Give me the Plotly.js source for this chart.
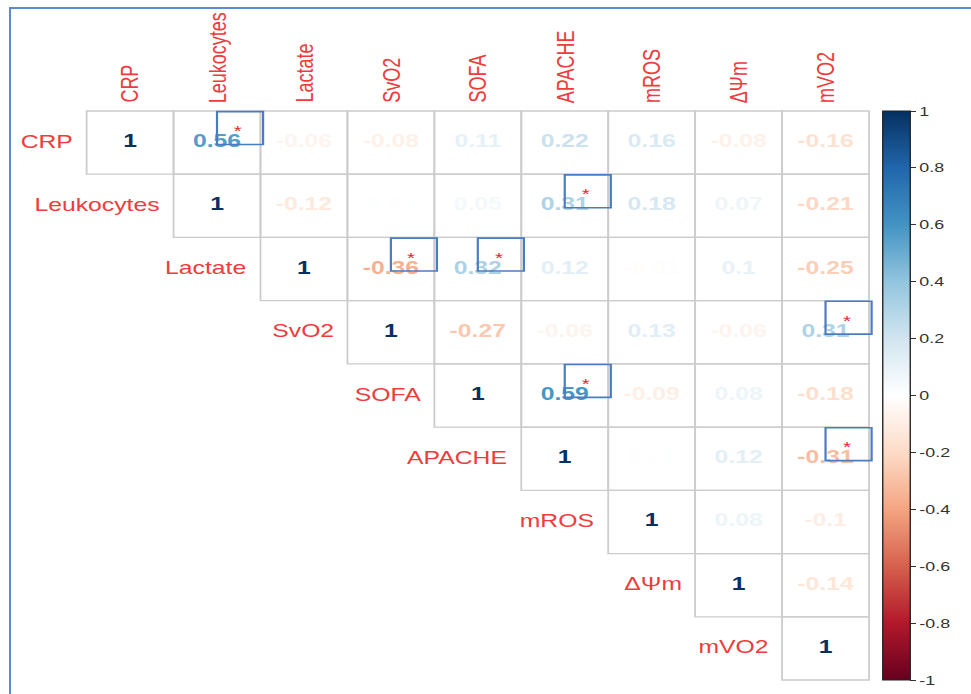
<!DOCTYPE html>
<html>
<head>
<meta charset="utf-8">
<script src="https://cdn.plot.ly/plotly-3.0.1.min.js"></script>
<style>
  html, body { margin: 0; padding: 0; background: #ffffff; overflow: hidden; }
  body { width: 971px; height: 694px; position: relative; }
  #frame {
    position: absolute; left: 9px; top: 7px; width: 980px; height: 700px;
    border-top: 2px solid #5b8bd0; border-left: 2px solid #5b8bd0;
  }
  /* the matrix is laid out on square cells, then widened horizontally */
  #chart {
    position: absolute; left: 0; top: 0; width: 706px; height: 694px;
    transform: scaleX(1.375); transform-origin: 0 0;
  }
</style>
</head>
<body>
<div id="frame"></div>
<div id="chart"></div>
<script>
// Variables of the correlation matrix
const variables = ["CRP", "Leukocytes", "Lactate", "SvO2", "SOFA", "APACHE", "mROS", "ΔΨm", "mVO2"];

// Upper-triangle correlation coefficients, one row per variable (from the diagonal rightwards)
const rowCRP        = [1, 0.56, -0.06, -0.08, 0.11, 0.22, 0.16, -0.08, -0.16];
const rowLeukocytes = [1, -0.12, 0.01, 0.05, 0.31, 0.18, 0.07, -0.21];
const rowLactate    = [1, -0.36, 0.32, 0.12, -0.01, 0.1, -0.25];
const rowSvO2       = [1, -0.27, -0.06, 0.13, -0.06, 0.31];
const rowSOFA       = [1, 0.59, -0.09, 0.08, -0.18];
const rowAPACHE     = [1, 0.01, 0.12, -0.31];
const rowMROS       = [1, 0.08, -0.1];
const rowDPsi       = [1, -0.14];
const rowMVO2       = [1];
const upperRows = [rowCRP, rowLeukocytes, rowLactate, rowSvO2, rowSOFA, rowAPACHE, rowMROS, rowDPsi, rowMVO2];

// Pairs flagged as significant [row variable, column variable]
const significantPairs = [
  ["CRP", "Leukocytes"],
  ["Leukocytes", "APACHE"],
  ["Lactate", "SvO2"],
  ["Lactate", "SOFA"],
  ["SvO2", "mVO2"],
  ["SOFA", "APACHE"],
  ["APACHE", "mVO2"]
];

// Diverging red-blue palette, from -1 to 1
const palette = ["#67001F", "#B2182B", "#D6604D", "#F4A582", "#FDDBC7", "#FFFFFF",
                 "#D1E5F0", "#92C5DE", "#4393C3", "#2166AC", "#053061"];
const colorTicks = [1, 0.8, 0.6, 0.4, 0.2, 0, -0.2, -0.4, -0.6, -0.8, -1];

const colorscale = palette.map((c, i) => [i / (palette.length - 1), c]);

function hexToRgb(h) {
  return [parseInt(h.slice(1, 3), 16), parseInt(h.slice(3, 5), 16), parseInt(h.slice(5, 7), 16)];
}
function valueColor(v) {
  const t = (v + 1) / 2 * (palette.length - 1);
  const i = Math.min(Math.floor(t), palette.length - 2);
  const f = t - i;
  const a = hexToRgb(palette[i]), b = hexToRgb(palette[i + 1]);
  const c = a.map((x, k) => Math.round(x + (b[k] - x) * f));
  return `rgb(${c[0]},${c[1]},${c[2]})`;
}

const n = variables.length;
// cell index -> paper fraction (x left to right, y top to bottom)
const px = v => (v + 0.5) / n;
const py = v => 1 - (v + 0.5) / n;

const labelRed = "#ee3b3b";

const xs = [], ys = [], texts = [], colors = [];
const shapes = [];
upperRows.forEach((row, r) => {
  row.forEach((v, k) => {
    const c = r + k;
    xs.push(c); ys.push(r); texts.push(String(v)); colors.push(valueColor(v));
    shapes.push({
      type: "rect", xref: "paper", yref: "paper",
      x0: px(c - 0.5), x1: px(c + 0.5), y0: py(r - 0.5), y1: py(r + 0.5),
      line: { color: "#cccccc", width: 1.3 }, fillcolor: "rgba(0,0,0,0)", layer: "below"
    });
  });
});

const annotations = [];
variables.forEach((name, i) => {
  // row label, just left of the diagonal cell
  annotations.push({
    x: i - 0.5, y: i, xref: "x", yref: "y", text: name, showarrow: false,
    xanchor: "right", yanchor: "middle", xshift: -8, yshift: 1,
    font: { family: "Liberation Sans, Arial, sans-serif", size: 18, color: labelRed }
  });
  // column label, above the grid
  annotations.push({
    x: i, y: -0.5, xref: "x", yref: "y", text: name, showarrow: false,
    textangle: -90, xanchor: "center", yanchor: "bottom", yshift: 6,
    font: { family: "Liberation Sans, Arial, sans-serif", size: 18, color: labelRed }
  });
});

significantPairs.forEach(([a, b]) => {
  const r = variables.indexOf(a), c = variables.indexOf(b);
  shapes.push({
    type: "rect", xref: "paper", yref: "paper",
    x0: px(c), x1: px(c + 0.53), y0: py(r - 0.49), y1: py(r + 0.03),
    line: { color: "#4a7cc4", width: 1.6 }, fillcolor: "rgba(0,0,0,0)", layer: "above"
  });
  annotations.push({
    x: c + 0.24, y: r - 0.19, xref: "x", yref: "y", text: "*", showarrow: false,
    xanchor: "center", yanchor: "middle",
    font: { family: "Liberation Sans, Arial, sans-serif", size: 15, color: "#e8262a" }
  });
});

const numbers = {
  type: "scatter", mode: "text", x: xs, y: ys, text: texts,
  textposition: "middle center", cliponaxis: false,
  textfont: { family: "Liberation Sans, Arial, sans-serif", size: 18, weight: "bold", color: colors },
  hoverinfo: "skip", showlegend: false
};

// invisible carrier for the colour bar
const scale = {
  type: "scatter", mode: "markers", x: [0, 0], y: [0, 0], hoverinfo: "skip", showlegend: false,
  marker: {
    size: 1, opacity: 0, color: [-1, 1], cmin: -1, cmax: 1, colorscale: colorscale, showscale: true,
    colorbar: {
      x: 1.0176, xanchor: "left", xpad: 0, y: 0.5, yanchor: "middle", ypad: 0,
      len: 1, lenmode: "fraction", thickness: 20,
      outlinewidth: 1, outlinecolor: "#222222",
      ticks: "outside", ticklen: 4, tickwidth: 1, tickcolor: "#333333",
      tickmode: "array", tickvals: colorTicks, ticktext: colorTicks.map(String),
      tickfont: { family: "Liberation Sans, Arial, sans-serif", size: 13, color: "#333333" }
    }
  }
};

const layout = {
  width: 706, height: 694,
  margin: { l: 62.5, r: 74, t: 111, b: 14 },
  paper_bgcolor: "rgba(0,0,0,0)", plot_bgcolor: "rgba(0,0,0,0)",
  xaxis: { range: [-0.5, 8.5], showgrid: false, zeroline: false, showticklabels: false, ticks: "", showline: false, fixedrange: true },
  yaxis: { range: [8.5, -0.5], showgrid: false, zeroline: false, showticklabels: false, ticks: "", showline: false, fixedrange: true },
  shapes: shapes,
  annotations: annotations,
  showlegend: false
};

Plotly.newPlot("chart", [scale, numbers], layout, { displayModeBar: false, staticPlot: true });
</script>
</body>
</html>
